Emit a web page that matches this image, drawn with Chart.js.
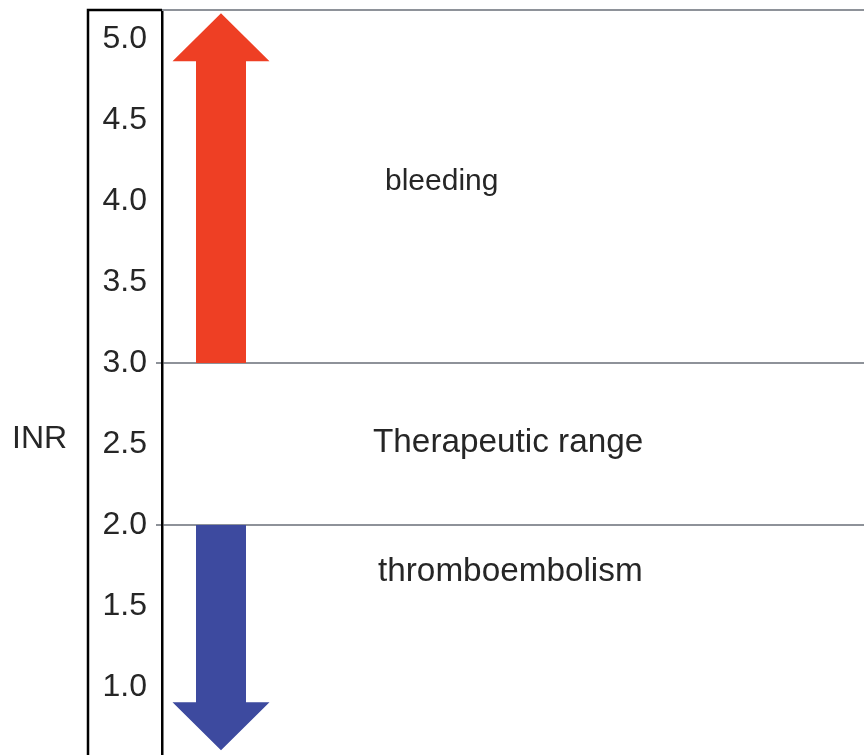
<!DOCTYPE html>
<html>
<head>
<meta charset="utf-8">
<script src="https://cdn.jsdelivr.net/npm/chart.js@4"></script>
<style>
  html, body { margin: 0; padding: 0; background: #fff; }
  #wrap { width: 864px; height: 755px; position: relative; }
</style>
</head>
<body>
<div id="wrap"><canvas id="c"></canvas></div>
<script>
// INR scale with the therapeutic window and the two risk arrows.
const yTicks = [1.0, 1.5, 2.0, 2.5, 3.0, 3.5, 4.0, 4.5, 5.0];
const yMin = 0.58;
const yMax = 5.18;
const rangeLines = [2.0, 3.0];             // therapeutic window bounds

const arrowNames = ['bleeding', 'thromboembolism'];
const arrowFrom = [3.0, 2.0];              // tail of each arrow
const arrowTo = [5.16, 0.61];              // tip of each arrow
const arrowColors = ['#ee3f24', '#3d4a9f'];

const zoneLabels = ['bleeding', 'Therapeutic range', 'thromboembolism'];
const zoneLabelValues = [4.12, 2.51, 1.71];
const zoneLabelSizes = [30, 33.3, 33.3];

const FONT = '"Liberation Sans", Arial, sans-serif';
const TEXT = '#262626';
const GRID = '#8e9299';

const frame = {
  id: 'frame',
  afterDraw(chart) {
    const { ctx, chartArea: a, scales: { y } } = chart;
    ctx.save();
    // top rule of the plot
    ctx.strokeStyle = GRID;
    ctx.lineWidth = 2;
    ctx.beginPath(); ctx.moveTo(a.left, a.top); ctx.lineTo(a.right, a.top); ctx.stroke();
    // black box around the tick labels (open at the bottom)
    ctx.strokeStyle = '#000';
    ctx.lineWidth = 2.5;
    ctx.beginPath();
    ctx.moveTo(y.left, chart.height + 5);
    ctx.lineTo(y.left, a.top);
    ctx.lineTo(a.left, a.top);
    ctx.stroke();
    // INR label
    ctx.fillStyle = TEXT;
    ctx.font = '32px ' + FONT;
    ctx.textAlign = 'left';
    ctx.textBaseline = 'middle';
    ctx.fillText('INR', 12, y.getPixelForValue(2.53));
    ctx.restore();
  }
};

const arrows = {
  id: 'arrows',
  afterDatasetsDraw(chart) {
    const { ctx, chartArea: a, scales: { y } } = chart;
    const cx = a.left + 59, shaft = 25, head = 48.5, headLen = 48;
    ctx.save();
    arrowFrom.forEach((from, i) => {
      const y0 = y.getPixelForValue(from);
      const y1 = y.getPixelForValue(arrowTo[i]);
      const dir = y1 < y0 ? 1 : -1;       // 1 = pointing up
      const yb = y1 + dir * headLen;
      ctx.fillStyle = arrowColors[i];
      ctx.beginPath();
      ctx.moveTo(cx - shaft, y0);
      ctx.lineTo(cx - shaft, yb);
      ctx.lineTo(cx - head, yb);
      ctx.lineTo(cx, y1);
      ctx.lineTo(cx + head, yb);
      ctx.lineTo(cx + shaft, yb);
      ctx.lineTo(cx + shaft, y0);
      ctx.closePath();
      ctx.fill();
    });
    ctx.fillStyle = TEXT;
    ctx.textAlign = 'left';
    ctx.textBaseline = 'middle';
    const xs = [385, 373, 378];
    zoneLabels.forEach((t, i) => {
      ctx.font = zoneLabelSizes[i] + 'px ' + FONT;
      ctx.fillText(t, xs[i], y.getPixelForValue(zoneLabelValues[i]));
    });
    ctx.restore();
  }
};

new Chart(document.getElementById('c'), {
  type: 'scatter',
  data: { datasets: [{ data: [], label: 'INR' }] },
  options: {
    responsive: true,
    maintainAspectRatio: false,
    animation: false,
    layout: { padding: { left: 88, top: 10, right: 0, bottom: 0 } },
    plugins: { legend: { display: false }, tooltip: { enabled: false } },
    scales: {
      x: { display: false, min: 0, max: 1 },
      y: {
        min: yMin,
        max: yMax,
        afterBuildTicks: s => { s.ticks = yTicks.map(v => ({ value: v })); },
        afterFit: s => { s.width = 74; s.paddingTop = 0; s.paddingBottom = 0; },
        border: { display: true, color: '#000', width: 2.5 },
        grid: {
          drawOnChartArea: true,
          drawTicks: true,
          tickLength: 6,
          lineWidth: 2,
          color: c => rangeLines.includes(c.tick && c.tick.value) ? GRID : 'rgba(0,0,0,0)',
          tickColor: c => rangeLines.includes(c.tick && c.tick.value) ? GRID : 'rgba(0,0,0,0)'
        },
        ticks: {
          padding: 9,
          color: TEXT,
          font: { family: FONT, size: 32 },
          callback: v => Number(v).toFixed(1)
        }
      }
    }
  },
  plugins: [frame, arrows]
});
</script>
</body>
</html>
